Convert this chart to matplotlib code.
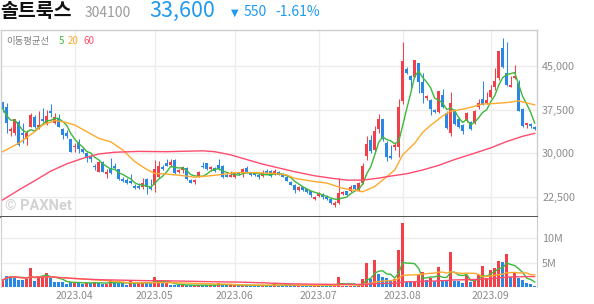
import numpy as np
import pandas as pd
import matplotlib.pyplot as plt

plt.rcParams['font.family'] = ['Noto Sans CJK KR', 'DejaVu Sans']

# ── DATA (daily candles 2023-03-08 .. 2023-09-18) ──
opens = [38800, 38000, 33850, 33500, 35350, 33400, 32400, 34550, 36300, 34450,
         35950, 35150, 37200, 35150, 35800, 34100, 33500, 32400, 31000, 31950,
         30650, 29950, 29500, 27800, 26800, 28450, 26400, 27400, 27800, 27200,
         25500, 25400, 25250, 24400, 24400, 24100, 25500, 24100, 24500, 25950,
         27650, 28250, 28000, 28800, 26750, 27100, 27400, 25400, 25050, 26050,
         27800, 28250, 27200, 27450, 27950, 27800, 26300, 25950, 25850, 26650,
         26650, 27450, 26650, 26650, 26300, 26050, 27000, 26850, 26400, 26750,
         26400, 25950, 25050, 24550, 23650, 24100, 23750, 23400, 22150, 22600,
         22850, 22500, 22050, 21150, 21450, 22950, 23400, 23400, 24450, 23750,
         24800, 29500, 32250, 30550, 34200, 35800, 31700, 29500, 31000, 31100,
         39050, 44550, 43300, 43150, 45450, 42250, 39500, 39150, 37450, 37100,
         39950, 36950, 33500, 37200, 35800, 34800, 35600, 35350, 35150, 37900,
         39250, 38700, 39700, 41450, 42950, 48100, 43850, 41450, 42950, 42150,
         37650, 34800, 35000, 34550]
highs = [38800, 38550, 34550, 35950, 35700, 35150, 34000, 36850, 36600, 37300,
         37700, 37400, 38450, 36950, 36750, 34350, 34000, 32500, 31700, 32400,
         30750, 30250, 29700, 28150, 28600, 28600, 27350, 29100, 28350, 27350,
         25950, 25650, 26400, 24700, 24800, 25650, 25700, 25500, 28800, 28700,
         27900, 29050, 28950, 28950, 27200, 27800, 27550, 25500, 25500, 26850,
         28450, 28350, 27800, 27550, 28950, 28000, 26750, 26850, 26650, 26750,
         27450, 27800, 26750, 26700, 26500, 27100, 27200, 27100, 27300, 26850,
         26500, 26000, 25150, 24650, 24350, 24200, 23850, 23550, 22600, 23300,
         23100, 22800, 22200, 21800, 25700, 23450, 23550, 24450, 24550, 25050,
         28350, 32950, 33050, 34650, 36750, 35900, 32050, 31350, 31700, 39250,
         49150, 44750, 43400, 46050, 45550, 43750, 39950, 39250, 37650, 40750,
         41100, 37200, 40500, 37650, 36150, 35000, 37100, 35600, 37400, 39350,
         42450, 40500, 41800, 44650, 47650, 49800, 49150, 43300, 45100, 42600,
         37750, 35250, 35250, 34650]
lows = [37100, 33500, 32950, 33100, 31250, 31700, 31400, 34450, 34300, 34100,
        35350, 34900, 36300, 35000, 34450, 32400, 32550, 30200, 30250, 29950,
        29950, 28550, 28550, 27100, 26750, 26750, 25650, 26400, 27200, 25400,
        25050, 24700, 24700, 23900, 23900, 23900, 22950, 23650, 23350, 25650,
        27100, 27700, 27650, 26400, 26650, 26650, 25350, 24800, 24700, 25950,
        27450, 27100, 27000, 26750, 27100, 25700, 25900, 25850, 25700, 26300,
        25950, 26650, 26100, 26050, 25500, 25850, 26400, 25850, 26300, 26200,
        25850, 25150, 24450, 23200, 23450, 23550, 23200, 22500, 21950, 22500,
        22050, 21950, 21250, 20800, 21250, 22850, 22750, 23300, 23650, 23550,
        24600, 28800, 30100, 30450, 33500, 32150, 28700, 29000, 30550, 29400,
        38450, 43600, 41000, 43050, 40300, 38700, 39150, 36600, 36950, 36950,
        37750, 34100, 32950, 34900, 34350, 33300, 35350, 33950, 35000, 37650,
        38200, 38450, 39500, 40950, 42600, 44650, 41550, 41300, 42700, 37200,
        34450, 34300, 34300, 33950]
closes = [37650, 35250, 34100, 35800, 31400, 33100, 33400, 36550, 34450, 34800,
          35600, 36400, 36950, 36300, 34550, 33100, 32950, 30250, 31250, 30650,
          30200, 29100, 28950, 27550, 28450, 26800, 26800, 26650, 27400, 25500,
          25250, 24900, 24800, 24000, 24000, 24800, 24100, 23750, 27200, 27800,
          27350, 27800, 28450, 26500, 27100, 27550, 25500, 24900, 25400, 26750,
          27550, 27350, 27550, 26850, 27200, 25850, 25950, 26300, 26500, 26400,
          27200, 26750, 26200, 26200, 25850, 26650, 26500, 26050, 27000, 26300,
          25950, 25250, 24550, 23650, 24100, 23650, 23300, 22750, 22500, 23100,
          22400, 22050, 21350, 21450, 23200, 23300, 22850, 24250, 23750, 24800,
          27800, 31550, 30300, 33850, 35800, 32400, 29400, 29150, 31350, 37900,
          45900, 43750, 42600, 46050, 42250, 40400, 39850, 37550, 37150, 40650,
          37900, 34350, 38700, 35000, 34550, 33850, 36850, 34100, 37200, 38550,
          38350, 39150, 40850, 42450, 47650, 44900, 41650, 41800, 43300, 37300,
          34650, 35150, 34650, 34100]

# volume in millions of shares, and bar colour (r = up, b = down)
volumes = [1.50, 2.38, 2.38, 2.38, 1.50, 1.50, 1.70, 3.89, 1.29, 2.31,
           2.31, 2.86, 1.84, 1.16, 1.16, 1.16, 0.68, 1.16, 0.82, 1.16,
           0.68, 0.82, 0.95, 1.09, 0.95, 0.68, 0.68, 1.50, 0.82, 0.82,
           0.82, 0.55, 1.36, 0.82, 0.82, 0.95, 0.95, 0.82, 2.04, 1.09,
           0.82, 0.82, 0.55, 0.55, 0.41, 0.41, 0.45, 0.45, 0.40, 0.50,
           0.45, 0.45, 0.40, 0.45, 0.90, 0.50, 0.45, 0.40, 0.45, 0.40,
           0.50, 0.40, 0.35, 0.35, 0.35, 0.40, 0.35, 0.45, 0.80, 0.35,
           0.40, 0.45, 0.40, 0.55, 0.35, 0.35, 0.40, 0.45, 0.30, 0.35,
           0.45, 0.40, 0.45, 0.30, 2.10, 0.35, 0.35, 0.30, 0.30, 0.35,
           1.70, 5.05, 1.65, 5.50, 2.65, 2.05, 1.85, 1.20, 1.70, 7.64,
           13.2, 1.05, 1.05, 1.20, 2.73, 3.20, 1.50, 1.90, 1.30, 4.10,
           1.40, 1.40, 7.20, 1.35, 1.20, 0.90, 2.46, 1.00, 1.60, 2.46,
           4.36, 1.90, 3.60, 3.90, 5.35, 5.20, 6.80, 2.10, 2.87, 2.00,
           1.45, 0.95, 0.70, 0.30]
vol_dir = ("rbbbbbrrbr" "rrbbbbbbrb" "brbrbbrrbb" "bbrbrrbbrr" "brbbbrbbrr"
           "bbrbrbbrrb" "rbbbbrbbrb" "bbbbrbbbrr" "bbbrrrbrbr" "rrbrbbbbrr"
           "rbbrrrbrbr" "bbrbbbrbrr" "rrrrrbrbrb" "bbbb")

# 20 / 60 day moving averages (values read at these candle positions)
ma20_idx = [0, 4, 8, 10, 13, 15, 18, 21, 24, 27, 30, 33, 36, 38, 41, 46, 48, 51, 54,
            58, 63, 68, 71, 73, 78, 81, 85, 90, 93, 95, 98, 100, 103, 105, 107, 110,
            112, 116, 120, 123, 126, 129, 133]
ma20_val = [30250, 31700, 33700, 34850, 35600, 35400, 34850, 33700, 32550, 31950,
            30550, 28550, 27200, 26500, 26400, 26050, 25850, 26050, 26250, 26650,
            26650, 26500, 26250, 25650, 25100, 24850, 23950, 23350, 24250, 25350,
            27100, 29700, 31700, 33600, 34800, 36400, 37200, 37700, 38450, 38550,
            38700, 39000, 38300]
ma60_idx = [0, 4, 8, 12, 16, 20, 24, 28, 34, 41, 50, 53, 57, 61, 65, 69, 73, 78, 82,
            86, 90, 94, 97, 101, 105, 109, 113, 118, 122, 126, 130, 133]
ma60_val = [21950, 23650, 25250, 26900, 28150, 29100, 29850, 30150, 30300, 30250,
            30400, 30250, 29700, 28900, 28100, 27450, 26800, 26100, 25700, 25350,
            25350, 25700, 26050, 26450, 27100, 27900, 28900, 30000, 30900, 32000,
            32900, 33400]

month_idx = [18, 38, 58, 79, 100, 122]
month_labels = ['2023.04', '2023.05', '2023.06', '2023.07', '2023.08', '2023.09']
price_ticks = [22500, 30000, 37500, 45000]
vol_ticks = [5, 10]
vol_labels = ['5M', '10M']

# ── STYLE ──────────────────────────────────────────────────────────────────
RED = '#f2404a'
BLUE = '#2b87e5'
C5, C20, C60 = '#3cb83c', '#ffa92e', '#ff4b6e'
GRID = '#ececec'
LABEL = '#8c8c8c'
BORDER = '#cfcfcf'

W, H = 594, 304
fig = plt.figure(figsize=(W / 100, H / 100), dpi=100)


def fx(px):
    return px / W


def fy(py):
    return 1 - py / H


ax_p = fig.add_axes([fx(1), fy(217.3), fx(536.3), (217.3 - 30) / H])
ax_v = fig.add_axes([fx(1), fy(287.3), fx(536.3), 70 / H], sharex=ax_p)

x = np.arange(len(closes))
o = np.array(opens)
c = np.array(closes)
cols = [RED if cc >= oo else BLUE for oo, cc in zip(o, c)]

# price panel
for m in month_idx:
    ax_p.axvline(m, color=GRID, lw=1, zorder=0)
    ax_v.axvline(m, color=GRID, lw=1, zorder=0)
for t in price_ticks:
    ax_p.axhline(t, color=GRID, lw=1, zorder=0)

ax_p.vlines(x, lows, highs, colors=cols, lw=0.75, zorder=2)
ax_p.bar(x, np.maximum(np.abs(c - o), 90), bottom=np.minimum(o, c), width=0.74,
         color=cols, linewidth=0, zorder=2)

ma5 = pd.Series(closes).rolling(5, min_periods=1).mean()
ax_p.plot(x, ma5, color=C5, lw=1.0, zorder=3)
ax_p.plot(ma20_idx, ma20_val, color=C20, lw=1.0, zorder=3)
ax_p.plot(ma60_idx, ma60_val, color=C60, lw=1.0, zorder=3)

ax_p.set_xlim(-0.425, 133.65)
ax_p.set_ylim(18953, 51197)
ax_p.yaxis.tick_right()
ax_p.set_yticks(price_ticks)
ax_p.set_yticklabels([f'{t:,}' for t in price_ticks])
ax_p.tick_params(axis='y', length=0, pad=3.5, labelsize=7.8, labelcolor=LABEL)
ax_p.tick_params(axis='x', length=0, labelbottom=False)
for s in ['top', 'left', 'right']:
    ax_p.spines[s].set_color(BORDER)
    ax_p.spines[s].set_linewidth(1)
ax_p.spines['bottom'].set_color('#333333')
ax_p.spines['bottom'].set_linewidth(1.2)

# volume panel
vcols = [RED if d == 'r' else BLUE for d in vol_dir]
for t in vol_ticks:
    ax_v.axhline(t, color=GRID, lw=1, zorder=0)
ax_v.bar(x, volumes, width=0.74, color=vcols, linewidth=0, zorder=2)
vs = pd.Series(volumes)
ax_v.plot(x, vs.rolling(5, min_periods=1).mean(), color=C5, lw=1.0, zorder=3)
ax_v.plot(x, vs.rolling(20, min_periods=1).mean(), color=C20, lw=1.0, zorder=3)
ax_v.plot(x, vs.rolling(60, min_periods=1).mean(), color=C60, lw=1.0, zorder=3)
ax_v.set_ylim(0, 14.34)
ax_v.yaxis.tick_right()
ax_v.set_yticks(vol_ticks)
ax_v.set_yticklabels(vol_labels)
ax_v.tick_params(axis='y', length=0, pad=3.5, labelsize=7.8, labelcolor=LABEL)
ax_v.set_xticks(month_idx)
ax_v.set_xticklabels(month_labels)
ax_v.tick_params(axis='x', length=0, pad=3.0, labelsize=7.5, labelcolor=LABEL)
ax_v.spines['top'].set_visible(False)
ax_v.spines['bottom'].set_visible(False)
for s in ['left', 'right']:
    ax_v.spines[s].set_color(BORDER)

# ── TEXT ───────────────────────────────────────────────────────────────────
fig.text(fx(0), fy(16.6), '솔트룩스', fontsize=14, fontweight='bold', color='#111111',
         va='baseline', ha='left')
fig.text(fx(85), fy(16.7), '304100', fontsize=10, color='#9a9a9a', va='baseline')
fig.text(fx(149), fy(17.3), '33,600', fontsize=15.5, color='#1e9af0', va='baseline')
fig.text(fx(231), fy(15.5), '▼', fontsize=7, color='#1e9af0', va='baseline',
         family=['DejaVu Sans'])
fig.text(fx(244), fy(16.2), '550', fontsize=10, color='#1e9af0', va='baseline')
fig.text(fx(275), fy(16.2), '-1.61%', fontsize=10, color='#1e9af0', va='baseline')

fig.text(fx(6), fy(43.8), '이동평균선', fontsize=6.8, color='#808080', va='baseline')
fig.text(fx(59), fy(44.2), '5', fontsize=7, color=C5, va='baseline')
fig.text(fx(68), fy(44.2), '20', fontsize=7, color=C20, va='baseline')
fig.text(fx(83), fy(44.2), '60', fontsize=7, color=C60, va='baseline')

fig.text(fx(5), fy(210.5), '© PAXNet', fontsize=10.5, fontweight='bold', color='#d2d2d2',
         va='baseline', family=['Roboto', 'DejaVu Sans'])

fig.savefig('out.png', dpi=100)
